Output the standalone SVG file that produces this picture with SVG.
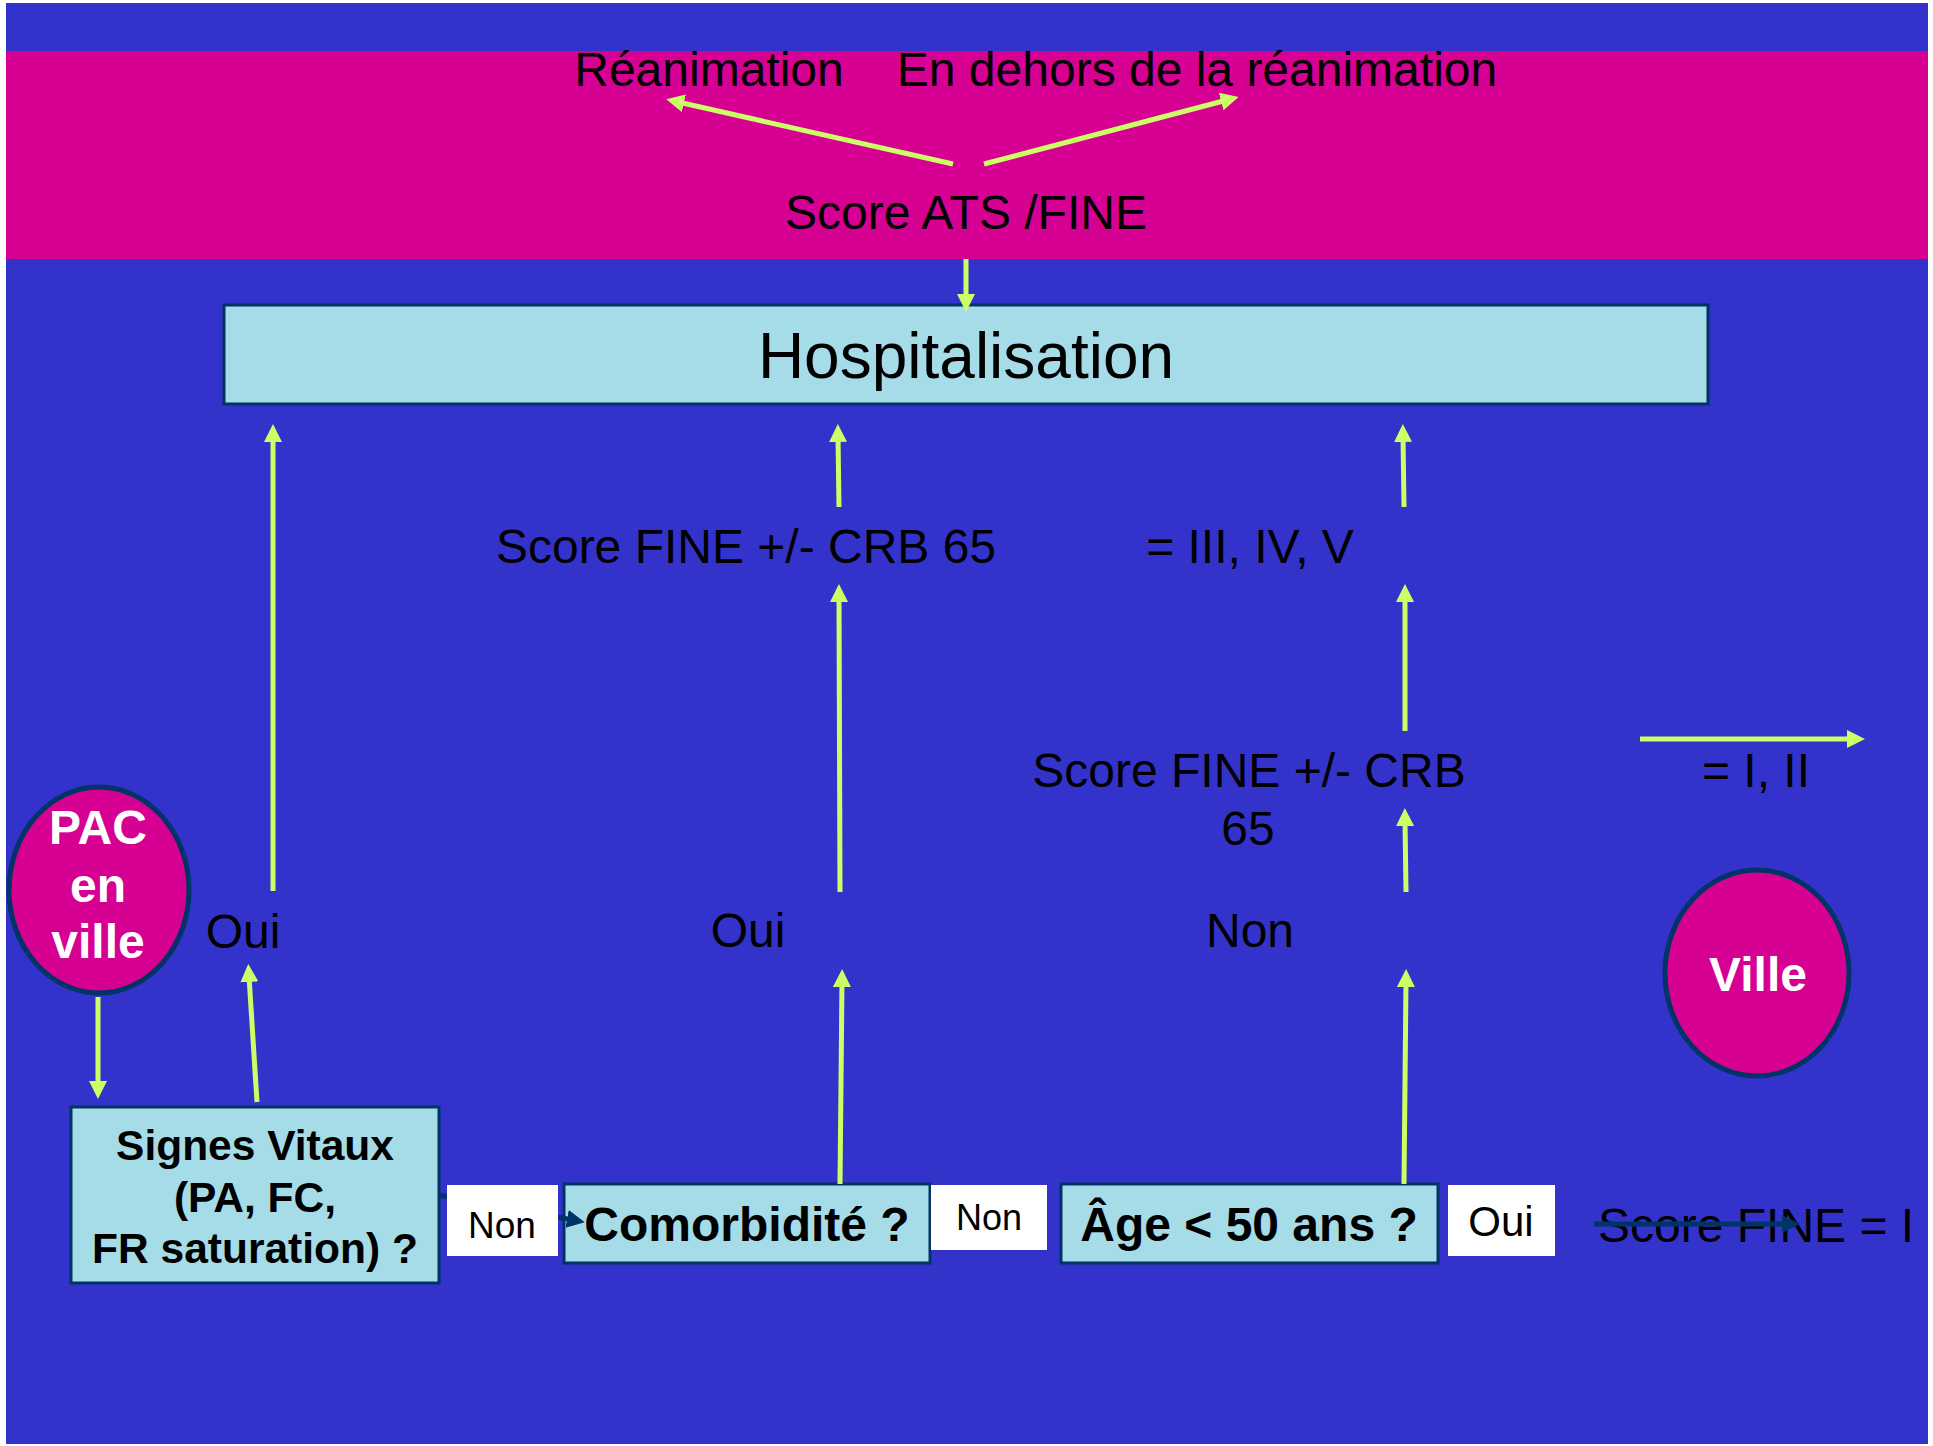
<svg xmlns="http://www.w3.org/2000/svg" width="1933" height="1446" viewBox="0 0 1933 1446">
<style>
  text { font-family: "Liberation Sans", Arial, sans-serif; fill: #000; }
  .t { font-size: 48px; }
  .tm { text-anchor: middle; }
  .b { font-weight: bold; }
  .w { fill: #fff; }
  .box { fill: #A6DCE8; stroke: #003366; stroke-width: 3; }
  .lab { fill: #fff; }
  .oval { fill: #D60093; stroke: #003366; stroke-width: 5; }
  .g { stroke: #CCFF66; stroke-width: 5; fill: none; marker-end: url(#ga); }
  .d { stroke: #003366; stroke-width: 5; fill: none; marker-end: url(#da); }
</style>
<defs>
  <marker id="ga" markerUnits="userSpaceOnUse" markerWidth="20" markerHeight="18" refX="6" refY="9" orient="auto" viewBox="0 0 20 18">
    <path d="M0,0 L18,9 L0,18 z" fill="#CCFF66"/>
  </marker>
  <marker id="da" markerUnits="userSpaceOnUse" markerWidth="20" markerHeight="18" refX="6" refY="9" orient="auto" viewBox="0 0 20 18">
    <path d="M0,0 L18,9 L0,18 z" fill="#003366"/>
  </marker>
</defs>
<rect x="0" y="0" width="1933" height="1446" fill="#fff"/>
<rect x="6" y="3" width="1922" height="1441" fill="#3333CC"/>
<rect x="6" y="51" width="1922" height="208" fill="#D60093"/>

<g id="reanimation"><text class="t tm" x="709" y="86">Réanimation</text></g>
<g id="hors-reanimation"><text class="t tm" x="1197" y="86">En dehors de la réanimation</text></g>
<g id="score-ats"><text class="t tm" x="966" y="229">Score ATS /FINE</text></g>

<g id="hospitalisation">
  <rect class="box" x="224" y="305" width="1484" height="99"/>
  <text class="tm" x="966" y="378" font-size="64">Hospitalisation</text>
</g>

<g id="score-fine-1"><text class="t tm" x="746" y="563">Score FINE +/- CRB 65</text></g>
<g id="iii-iv-v"><text class="t tm" x="1250" y="563">= III, IV, V</text></g>
<g id="score-fine-2"><text class="t tm" x="1249" y="787">Score FINE +/- CRB</text><text class="t tm" x="1248" y="845">65</text></g>
<g id="i-ii"><text class="t tm" x="1756" y="787">= I, II</text></g>

<g id="oui-1"><text class="t tm" x="243" y="948">Oui</text></g>
<g id="oui-2"><text class="t tm" x="748" y="947">Oui</text></g>
<g id="non-3"><text class="t tm" x="1250" y="947">Non</text></g>

<g id="pac">
  <ellipse class="oval" cx="99" cy="890" rx="90" ry="103"/>
  <text class="t tm b w" x="98" y="844">PAC</text>
  <text class="t tm b w" x="98" y="902">en</text>
  <text class="t tm b w" x="98" y="958">ville</text>
</g>

<g id="ville">
  <ellipse class="oval" cx="1757" cy="973" rx="92" ry="103"/>
  <text class="t tm b w" x="1758" y="991">Ville</text>
</g>

<g id="signes">
  <rect class="box" x="71" y="1107" width="368" height="176"/>
  <text class="tm b" x="255" y="1160" font-size="42.5">Signes Vitaux</text>
  <text class="tm b" x="255" y="1212" font-size="42.5">(PA, FC,</text>
  <text class="tm b" x="255" y="1263" font-size="42.5">FR saturation) ?</text>
</g>

<g id="comorbidite">
  <rect class="box" x="564" y="1184" width="366" height="79"/>
  <text class="t tm b" x="747" y="1241">Comorbidité ?</text>
</g>

<g id="age">
  <rect class="box" x="1061" y="1184" width="377" height="79"/>
  <text class="t tm b" x="1249" y="1241">Âge &lt; 50 ans ?</text>
</g>

<g id="score-fine-i"><text class="t" x="1598" y="1242">Score FINE = I</text></g>

<g id="connectors">
  <line class="g" x1="953" y1="164" x2="678" y2="102"/>
  <line class="g" x1="984" y1="164" x2="1227" y2="100"/>
  <line class="g" x1="966" y1="259" x2="966" y2="300"/>
  <line class="g" x1="273" y1="891" x2="273" y2="436"/>
  <line class="g" x1="839" y1="507" x2="838" y2="436"/>
  <line class="g" x1="1404" y1="507" x2="1403" y2="436"/>
  <line class="g" x1="840" y1="892" x2="839" y2="596"/>
  <line class="g" x1="1405" y1="731" x2="1405" y2="596"/>
  <line class="g" x1="1406" y1="892" x2="1405" y2="820"/>
  <line class="g" x1="1640" y1="739" x2="1853" y2="739"/>
  <line class="g" x1="98" y1="997" x2="98" y2="1087"/>
  <line class="g" x1="257" y1="1102" x2="249" y2="976"/>
  <line class="g" x1="840" y1="1184" x2="842" y2="981"/>
  <line class="g" x1="1404" y1="1184" x2="1406" y2="981"/>
  <line class="d" x1="439" y1="1195" x2="573" y2="1220" stroke-width="4"/>
  <line class="d" x1="1594" y1="1224" x2="1788" y2="1224"/>
</g>

<g id="non-1">
  <rect class="lab" x="447" y="1185" width="111" height="71"/>
  <text class="tm" x="502" y="1238" font-size="37">Non</text>
</g>
<g id="non-2">
  <rect class="lab" x="931" y="1185" width="116" height="65"/>
  <text class="tm" x="989" y="1230" font-size="36">Non</text>
</g>
<g id="oui-3">
  <rect class="lab" x="1448" y="1185" width="107" height="71"/>
  <text class="tm" x="1501" y="1236" font-size="42">Oui</text>
</g>
</svg>
